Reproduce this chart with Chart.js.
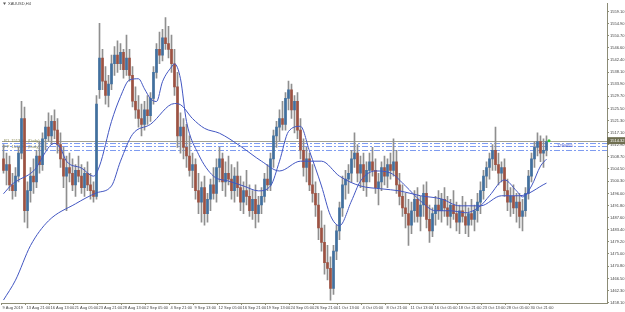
<!DOCTYPE html>
<html>
<head>
<meta charset="utf-8">
<script src="https://cdn.jsdelivr.net/npm/chart.js@4.4.0/dist/chart.umd.min.js"></script>
<style>
html, body { margin: 0; padding: 0; background: #fff; }
#wrap { width: 625px; height: 312px; position: relative; }
</style>
</head>
<body>
<div id="wrap"><canvas id="chart" width="625" height="312"></canvas></div>
<script>
// XAUUSD H4, 9 Aug - 1 Nov 2019 (one bar here ~ 8 hours)
var symbol = "XAUUSD,H4";
var timeLabels = ["9 Aug 2019", "13 Aug 21:00", "16 Aug 13:00", "21 Aug 05:00", "23 Aug 21:00", "28 Aug 13:00",
    "2 Sep 05:00", "4 Sep 21:00", "9 Sep 13:00", "12 Sep 05:00", "16 Sep 21:00", "19 Sep 13:00", "24 Sep 05:00",
    "26 Sep 21:00", "1 Oct 13:00", "4 Oct 05:00", "8 Oct 21:00", "11 Oct 13:00", "16 Oct 05:00", "18 Oct 21:00",
    "23 Oct 13:00", "28 Oct 05:00", "30 Oct 21:00"];
var priceTicks = [1559.10, 1554.90, 1550.70, 1546.60, 1542.40, 1538.10, 1533.90, 1529.70, 1525.50, 1521.30,
    1517.10, 1512.90, 1508.70, 1504.50, 1500.30, 1496.00, 1491.80, 1487.60, 1483.40, 1479.20, 1475.00,
    1470.80, 1466.50, 1462.30, 1458.10];

var opens = [1508,1504,1506,1499,1497,1502,1510,1522,1490,1497,1502,1500,1509,1506,1515,1519,1516,1521,1518,1513,
    1508,1502,1505,1503,1499,1504,1502,1498,1503,1499,1497,1495,1532,1543,1535,1530,1534,1541,1544,1541,
    1545,1539,1543,1537,1528,1525,1522,1520,1525,1523,1529,1538,1546,1544,1550,1548,1546,1541,1533,1516,
    1519,1512,1509,1504,1506,1497,1493,1498,1489,1494,1499,1496,1505,1508,1500,1503,1501,1497,1502,1498,
    1493,1497,1495,1490,1494,1489,1492,1495,1501,1499,1508,1516,1519,1522,1520,1529,1532,1525,1528,1518,
    1511,1505,1508,1499,1496,1492,1484,1479,1472,1470,1463,1476,1483,1491,1499,1501,1503,1508,1510,1503,
    1506,1500,1504,1507,1504,1498,1500,1505,1502,1506,1504,1507,1499,1495,1491,1489,1485,1490,1494,1488,
    1492,1496,1487,1483,1489,1492,1490,1494,1491,1488,1492,1489,1486,1490,1488,1485,1489,1487,1490,1493,
    1497,1502,1505,1508,1511,1506,1503,1505,1497,1493,1495,1491,1493,1488,1490,1496,1502,1508,1512,1514,
    1510,1511];
var highs = [1513,1510,1509,1503,1505,1512,1528,1526,1500,1505,1508,1511,1514,1517,1521,1524,1523,1525,1522,1517,
    1512,1509,1510,1508,1506,1509,1506,1505,1507,1503,1500,1530,1555,1546,1540,1537,1544,1547,1549,1548,
    1546,1551,1546,1540,1533,1530,1527,1528,1530,1531,1540,1548,1552,1553,1557,1554,1551,1546,1538,1524,
    1522,1520,1516,1510,1508,1503,1500,1502,1496,1501,1505,1508,1512,1510,1507,1509,1506,1505,1507,1502,
    1500,1504,1499,1497,1499,1495,1498,1503,1506,1510,1518,1521,1525,1528,1531,1535,1534,1530,1531,1522,
    1515,1512,1510,1506,1500,1496,1490,1485,1478,1474,1478,1485,1493,1502,1504,1506,1511,1517,1513,1509,
    1510,1507,1510,1512,1508,1503,1507,1509,1508,1510,1515,1511,1503,1499,1496,1494,1493,1497,1498,1495,
    1499,1500,1492,1491,1495,1497,1496,1498,1495,1494,1497,1493,1492,1495,1493,1491,1494,1492,1496,1500,
    1504,1507,1510,1513,1519,1510,1507,1508,1501,1498,1499,1496,1496,1494,1498,1504,1510,1514,1517,1516,
    1515,1516];
var lows = [1503,1499,1497,1494,1495,1500,1508,1486,1484,1493,1496,1498,1503,1504,1511,1514,1513,1515,1510,1505,
    1498,1490,1500,1497,1495,1500,1496,1495,1497,1494,1493,1494,1529,1532,1527,1526,1532,1537,1538,1539,
    1536,1537,1535,1526,1522,1519,1516,1518,1520,1521,1527,1536,1541,1542,1546,1543,1538,1530,1512,1510,
    1508,1505,1502,1498,1494,1489,1486,1485,1486,1490,1494,1493,1500,1497,1495,1499,1494,1493,1495,1490,
    1489,1492,1488,1487,1484,1486,1489,1493,1497,1497,1505,1512,1514,1518,1518,1525,1522,1517,1515,1508,
    1502,1500,1497,1493,1488,1480,1476,1468,1466,1459,1461,1473,1480,1488,1494,1496,1500,1505,1500,1498,
    1497,1495,1500,1502,1496,1492,1497,1499,1498,1501,1502,1496,1492,1488,1484,1478,1482,1486,1486,1483,
    1488,1484,1479,1481,1485,1487,1486,1488,1485,1484,1487,1483,1482,1486,1482,1481,1485,1483,1486,1489,
    1494,1498,1501,1504,1504,1499,1500,1495,1490,1488,1489,1486,1484,1483,1488,1494,1500,1505,1509,1507,
    1505,1509];
var closes = [1504,1506,1499,1497,1502,1510,1522,1490,1497,1502,1500,1509,1506,1515,1519,1516,1521,1518,1513,1508,
    1502,1505,1503,1499,1504,1502,1498,1503,1499,1497,1495,1527,1543,1535,1530,1534,1541,1544,1541,1545,
    1539,1543,1537,1528,1525,1522,1520,1525,1523,1529,1538,1546,1544,1550,1548,1546,1541,1533,1516,1519,
    1512,1509,1504,1506,1497,1493,1498,1489,1494,1499,1496,1505,1508,1500,1503,1501,1497,1502,1498,1493,
    1497,1495,1490,1494,1489,1492,1495,1501,1499,1508,1516,1519,1522,1520,1529,1532,1525,1528,1518,1511,
    1505,1508,1499,1496,1492,1484,1479,1472,1470,1463,1476,1483,1491,1499,1501,1503,1508,1510,1503,1506,
    1500,1504,1507,1504,1498,1500,1505,1502,1506,1504,1507,1499,1495,1491,1489,1485,1490,1494,1488,1492,
    1496,1487,1483,1489,1492,1490,1494,1491,1488,1492,1489,1486,1490,1488,1485,1489,1487,1490,1493,1497,
    1502,1505,1508,1511,1506,1503,1505,1497,1493,1495,1491,1493,1488,1490,1496,1502,1508,1512,1514,1510,
    1511,1514];

// moving averages (bar index, price)
var maFastBars = [0,3,10,17,19,21,26,30,32,36,39,42,45,47,49,51,53,56,57,59,61,65,70,75,80,85,89,92,95,99,
    102,106,109,112,116,119,124,129,134,139,144,149,154,159,162,167,171,173,176,179,181];
var maFastVals = [1495.9,1499.3,1503.8,1513.4,1511.7,1507.2,1504.8,1502.0,1505.5,1521.0,1529.6,1535.4,1535.8,1532.3,
    1528.9,1527.9,1534.8,1539.9,1541.0,1535.8,1521.0,1509.6,1502.0,1500.3,1498.6,1496.9,1498.6,1507.2,1517.5,
    1519.3,1510.7,1498.6,1488.3,1484.8,1493.4,1500.3,1503.8,1503.1,1498.6,1493.4,1490.0,1490.0,1489.3,1491.7,
    1495.2,1500.7,1496.9,1494.8,1498.6,1505.5,1507.9];
var maSlowBars = [0,4,9,15,24,31,36,39,43,49,57,59,63,67,72,79,86,92,99,106,112,119,126,132,139,146,152,159,
    166,172,181];
var maSlowVals = [1459.0,1465.9,1477.9,1486.5,1492.4,1496.2,1498.6,1507.2,1516.5,1520.0,1527.2,1526.8,1522.0,1518.6,
    1516.9,1512.4,1507.2,1503.8,1507.2,1507.2,1502.0,1498.6,1497.6,1496.9,1495.2,1494.1,1491.7,1491.7,1495.2,
    1495.2,1499.6];

var bidPrice = 1514.32;
var levelPrices = [1513.5, 1512.3, 1511.2];
var levelTexts = ["R1  1513.50  (Daily)", "PP  1511.20  (Daily)"];
var levelTextAt = [0, 2];

var bullColor = "#41709f";
var bearColor = "#9d5242";
var wickColor = "#8f8f8f";
var maColor = "#4256c2";
var axisColor = "#8c8c76";
var labelFont = "4px 'Liberation Sans'";

var wickData = highs.map(function (h, i) { return { x: i, y: [lows[i], h] }; });
var bodyData = opens.map(function (o, i) { return { x: i, y: [o, closes[i]] }; });
var bodyColors = opens.map(function (o, i) { return closes[i] >= o ? bullColor : bearColor; });
var fastData = maFastBars.map(function (b, i) { return { x: b, y: maFastVals[i] }; });
var slowData = maSlowBars.map(function (b, i) { return { x: b, y: maSlowVals[i] }; });

var overlay = {
    id: "overlay",
    beforeDatasetsDraw: function (chart) {
        var ctx = chart.ctx, y = chart.scales.y, a = chart.chartArea;
        ctx.save();
        // bid line
        var by = Math.round(y.getPixelForValue(bidPrice)) + 0.5;
        ctx.strokeStyle = "#a3a38f";
        ctx.lineWidth = 1;
        ctx.beginPath(); ctx.moveTo(a.left, by); ctx.lineTo(a.right, by); ctx.stroke();
        // dash-dot levels
        ctx.strokeStyle = "#7f9cf0";
        ctx.setLineDash([6, 2, 2, 2]);
        levelPrices.forEach(function (p) {
            var py = Math.round(y.getPixelForValue(p)) + 0.5;
            ctx.beginPath(); ctx.moveTo(a.left, py); ctx.lineTo(a.right, py); ctx.stroke();
        });
        ctx.setLineDash([]);
        ctx.font = labelFont;
        ctx.fillStyle = "#8a8a55";
        ctx.textBaseline = "bottom";
        levelTexts.forEach(function (t, i) {
            ctx.fillText(t, a.left + 2, y.getPixelForValue(levelPrices[levelTextAt[i]]) - 0.5);
        });
        ctx.restore();
    },
    afterDraw: function (chart) {
        var ctx = chart.ctx, x = chart.scales.x, y = chart.scales.y, a = chart.chartArea;
        ctx.save();
        // time labels, left aligned at their tick like the terminal does
        ctx.font = labelFont;
        ctx.fillStyle = "#444";
        ctx.strokeStyle = axisColor;
        ctx.lineWidth = 1;
        ctx.textBaseline = "middle";
        timeLabels.forEach(function (t, i) {
            var px = Math.round(x.getPixelForValue(i * 8)) - 1.5;
            ctx.beginPath(); ctx.moveTo(px, a.bottom); ctx.lineTo(px, a.bottom + 2); ctx.stroke();
            ctx.fillText(t, px + 1, a.bottom + 4.5);
        });
        // symbol caption
        ctx.fillStyle = "#555";
        ctx.beginPath(); ctx.moveTo(3, 2.5); ctx.lineTo(6, 2.5); ctx.lineTo(4.5, 5); ctx.fill();
        ctx.font = labelFont;
        ctx.fillStyle = "#444";
        ctx.fillText(symbol, 8, 4);
        // marker at the last bar
        var by = y.getPixelForValue(bidPrice);
        ctx.fillStyle = "#33cc33";
        ctx.beginPath(); ctx.arc(549, by, 1.5, 0, Math.PI * 2); ctx.fill();
        ctx.fillStyle = "#3040c0";
        ctx.fillText("\u2190 1290055", 552, by + 5);
        // price box on the axis
        ctx.fillStyle = "#6e6e50";
        ctx.fillRect(a.right, by - 3.5, 625 - a.right, 7);
        ctx.fillStyle = "#fff";
        ctx.fillText(bidPrice.toFixed(2), a.right + 3, by);
        ctx.restore();
    }
};

new Chart(document.getElementById("chart"), {
    data: {
        datasets: [
            { type: "line", data: fastData, borderColor: maColor, borderWidth: 1, pointRadius: 0,
              tension: 0.4, cubicInterpolationMode: "monotone" },
            { type: "line", data: slowData, borderColor: maColor, borderWidth: 1, pointRadius: 0,
              tension: 0.4, cubicInterpolationMode: "monotone" },
            { type: "bar", data: bodyData, backgroundColor: bodyColors, barThickness: 2, grouped: false,
              minBarLength: 1 },
            { type: "bar", data: wickData, backgroundColor: wickColor, barThickness: 1, grouped: false }
        ]
    },
    options: {
        responsive: false,
        animation: false,
        devicePixelRatio: 1,
        layout: { padding: { left: 2, top: 1, right: 0, bottom: 0 } },
        plugins: { legend: { display: false }, tooltip: { enabled: false } },
        scales: {
            x: {
                type: "linear",
                offset: false,
                min: -0.5,
                max: 201.17,
                afterFit: function (s) { s.height = 9; },
                grid: { display: false, offset: false },
                border: { color: axisColor },
                ticks: { display: false }
            },
            y: {
                position: "right",
                min: 1457.98,
                max: 1561.96,
                afterBuildTicks: function (s) {
                    s.ticks = priceTicks.map(function (p) { return { value: p }; });
                },
                afterFit: function (s) { s.width = 18; },
                grid: { drawOnChartArea: false, tickLength: 2, color: axisColor },
                border: { color: axisColor },
                ticks: {
                    padding: 1, color: "#444", font: { family: "Liberation Sans", size: 4 },
                    callback: function (v) { return v.toFixed(2); }
                }
            }
        }
    },
    plugins: [overlay]
});
</script>
</body>
</html>
